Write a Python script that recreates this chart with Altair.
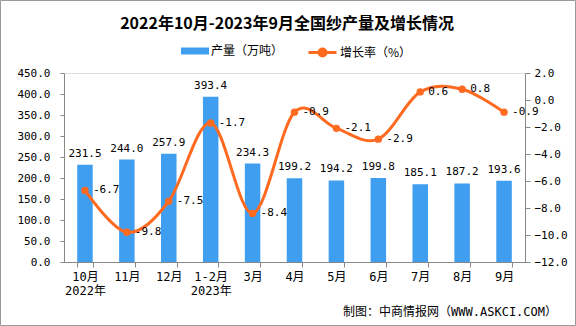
import altair as alt
import pandas as pd

months = ["10月", "11月", "12月", "1-2月", "3月", "4月", "5月", "6月", "7月", "8月", "9月"]
output = [231.5, 244.0, 257.9, 393.4, 234.3, 199.2, 194.2, 199.8, 185.1, 187.2, 193.6]
growth = [-6.7, -9.8, -7.5, -1.7, -8.4, -0.9, -2.1, -2.9, 0.6, 0.8, -0.9]
left_ticks = [0, 50, 100, 150, 200, 250, 300, 350, 400, 450]
right_ticks = [2, 0, -2, -4, -6, -8, -10, -12]
title_text = "2022年10月-2023年9月全国纱产量及增长情况"
source_text = "制图：中商情报网（WWW.ASKCI.COM）"

BLUE = "#409EF0"
ORANGE = "#FF6A21"
NUMFONT = "DejaVu Sans Mono"
CJK = "Noto Sans CJK SC"
MIX = "DejaVu Sans Mono, Noto Sans CJK SC"

df = pd.DataFrame({
    "month": months,
    "output": output,
    "growth": growth,
    "out_lbl": [f"{v:.1f}" for v in output],
    "gr_lbl": [f"{v:.1f}" for v in growth],
    "s": "产量（万吨）",
    "s2": "增长率（%）",
})

W, H = 461, 189

xenc = alt.X(
    "month:N", sort=months,
    scale=alt.Scale(paddingInner=0.63, paddingOuter=0.315),
    axis=alt.Axis(
        title=None, labelAngle=0, tickBand="extent", tickSize=5, tickColor="#888",
        domainColor="#888", labelFont=MIX, labelFontSize=12, labelColor="#000",
        labelPadding=4, labelLineHeight=14.5, labelBaseline="top",
        labelExpr="datum.value == '10月' ? ['10月','2022年'] : (datum.value == '1-2月' ? ['1-2月','2023年'] : datum.value)",
    ),
)

left_axis = alt.Axis(
    title=None, values=left_ticks, format=".1f", grid=False, orient="left",
    tickSize=4, tickColor="#888", domainColor="#888", labelFont=NUMFONT,
    labelFontSize=11, labelColor="#000", labelPadding=10, labelOverlap=False,
)
left_scale = alt.Scale(domain=[0, 450], nice=False, zero=True)

bars = alt.Chart(df).mark_bar().encode(
    x=xenc,
    y=alt.Y("output:Q", scale=left_scale, axis=left_axis),
    color=alt.Color(
        "s:N",
        scale=alt.Scale(domain=["产量（万吨）"], range=[BLUE]),
        legend=alt.Legend(
            orient="none", legendX=117, legendY=-36, title=None,
            symbolType="M-1,-0.25H1V0.25H-1Z", symbolSize=784, symbolStrokeWidth=0,
            labelFont=CJK, labelFontSize=12, labelColor="#000", labelOffset=2, padding=0,
        ),
    ),
)
bar_text = alt.Chart(df).mark_text(
    baseline="alphabetic", dy=-8, font=NUMFONT, fontSize=11, color="#000"
).encode(
    x=alt.X("month:N", sort=months),
    y=alt.Y("output:Q", scale=left_scale, axis=left_axis),
    text="out_lbl:N",
)

left = alt.layer(bars, bar_text)

right_axis = alt.Axis(
    title=None, values=right_ticks, format=".1f", grid=False, orient="right",
    tickSize=5, tickColor="#888", domainColor="#888", labelFont=NUMFONT,
    labelFontSize=11, labelColor="#000", labelPadding=4, labelOverlap=False,
)
right_scale = alt.Scale(domain=[-12, 2], nice=False, zero=False)

line = alt.Chart(df).mark_line(interpolate="cardinal", strokeWidth=3).encode(
    x=alt.X("month:N", sort=months),
    y=alt.Y("growth:Q", scale=right_scale, axis=right_axis),
    stroke=alt.Stroke(
        "s2:N",
        scale=alt.Scale(domain=["增长率（%）"], range=[ORANGE]),
        legend=alt.Legend(
            orient="none", legendX=243, legendY=-36, title=None,
            symbolType="M-1,0H1M-0.25,0A0.25,0.25,0,1,1,0.25,0A0.25,0.25,0,1,1,-0.25,0Z",
            symbolSize=784, symbolStrokeWidth=3, symbolFillColor=ORANGE,
            labelFont=CJK, labelFontSize=12, labelColor="#000", labelOffset=2, padding=0,
        ),
    ),
)
pts = alt.Chart(df).mark_circle(size=55, color=ORANGE, opacity=1).encode(
    x=alt.X("month:N", sort=months),
    y=alt.Y("growth:Q", scale=right_scale, axis=right_axis),
)
line_text = alt.Chart(df).mark_text(
    align="left", baseline="middle", dx=8, font=NUMFONT, fontSize=11, color="#000"
).encode(
    x=alt.X("month:N", sort=months),
    y=alt.Y("growth:Q", scale=right_scale, axis=right_axis),
    text="gr_lbl:N",
)

right = alt.layer(line, pts, line_text)

title = alt.Chart(pd.DataFrame({"t": [title_text]})).mark_text(
    align="center", baseline="middle", font=CJK, fontSize=16, fontWeight="bold", color="#000"
).encode(x=alt.value(223), y=alt.value(-49), text="t:N")

src = alt.Chart(pd.DataFrame({"t": [source_text]})).mark_text(
    align="right", baseline="middle", font=MIX, fontSize=12, color="#000"
).encode(x=alt.value(493), y=alt.value(239), text="t:N")

border = alt.Chart(pd.DataFrame({"a": [0]})).mark_rect(
    fill=None, stroke="#999", strokeWidth=1
).encode(x=alt.value(-63.5), x2=alt.value(511.5), y=alt.value(-72.5), y2=alt.value(252.5))

chart = alt.layer(left, right, title, src, border).resolve_scale(
    y="independent", color="independent", stroke="independent"
).properties(
    width=W, height=H,
    autosize=alt.AutoSizeParams(type="none"),
    padding={"left": 64, "top": 73, "right": 51, "bottom": 64},
).configure_view(stroke=None).configure(background="white")

chart.save("out.html", embed_options={"renderer": "svg", "actions": False})
